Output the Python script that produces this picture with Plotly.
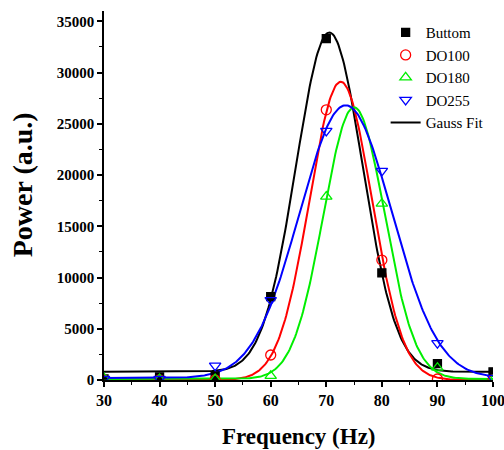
import numpy as np
import plotly.graph_objects as go

freq = [30, 40, 50, 60, 70, 80, 90, 100]
buttom = [100, 300, 400, 8140, 33300, 10450, 1600, 800]
do100 = [0, 0, 0, 2440, 26360, 11700, 100, 0]
do180 = [200, 100, 100, 400, 17900, 17200, 1200, 0]
do255 = [100, 100, 1400, 7800, 24300, 20400, 3600, 200]

series_names = ["Buttom", "DO100", "DO180", "DO255"]
series_colors = ["#000000", "#ff0000", "#00ee00", "#0000ff"]
series_symbols = ["square", "circle-open", "triangle-up-open", "triangle-down-open"]
series_values = [buttom, do100, do180, do255]

# Gauss fit parameters: baseline, amplitude, centre, sigma
fit_y0 = [800, 0, 100, 200]
fit_amp = [33100, 29100, 26500, 26600]
fit_xc = [70.55, 72.6, 75.0, 73.5]
fit_sigma = [6.0, 5.6, 5.5, 8.3]

x_ticks = [30, 40, 50, 60, 70, 80, 90, 100]
x_ticktext = ["30", "40", "50", "60", "70", "80", "90", "100"]
y_ticks = [0, 5000, 10000, 15000, 20000, 25000, 30000, 35000]
y_ticktext = ["0", "5000", "10000", "15000", "20000", "25000", "30000", "35000"]

fig = go.Figure()

xf = np.linspace(30, 100, 351)
for i in range(4):
    yf = fit_y0[i] + fit_amp[i] * np.exp(-((xf - fit_xc[i]) ** 2) / (2 * fit_sigma[i] ** 2))
    fig.add_trace(go.Scatter(
        x=xf, y=yf, mode="lines",
        line=dict(color=series_colors[i], width=2),
        name="Gauss Fit", showlegend=(i == 0), legendrank=5,
        hoverinfo="skip",
    ))

for i in range(4):
    sym = series_symbols[i]
    fig.add_trace(go.Scatter(
        x=freq, y=series_values[i], mode="markers",
        name=series_names[i], legendrank=i + 1,
        marker=dict(symbol=sym, color=series_colors[i],
                    size=8 if sym == "square" else 10,
                    line=dict(width=1.3, color=series_colors[i])),
    ))

axcommon = dict(showline=True, linewidth=1.5, linecolor="black", showgrid=False,
                zeroline=False, ticklen=5, tickwidth=1.5, tickcolor="black",
                automargin=False)

fig.update_layout(
    width=504, height=450,
    margin=dict(l=104, r=10.5, t=11, b=70, autoexpand=False),
    paper_bgcolor="white", plot_bgcolor="white",
    font=dict(family="Liberation Serif", color="black"),
    xaxis=dict(range=[30, 100], tickvals=x_ticks, ticktext=x_ticktext, ticks="outside",
               ticklabeloverflow="allow",
               tickfont=dict(family="Liberation Serif", size=16, color="black", weight="bold"),
               minor=dict(dtick=5, ticks="outside", ticklen=3, tickwidth=1.2, tickcolor="black"),
               **axcommon),
    yaxis=dict(range=[0, 36000], tickvals=y_ticks, ticktext=y_ticktext, ticks="outside",
               tickfont=dict(family="Liberation Serif", size=15, color="black", weight="bold"),
               minor=dict(dtick=2500, ticks="outside", ticklen=3, tickwidth=1.2, tickcolor="black"),
               **axcommon),
    xaxis2=dict(range=[30, 100], overlaying="x", side="top", tickvals=x_ticks,
                ticks="inside", showticklabels=False,
                minor=dict(dtick=5, ticks="inside", ticklen=3, tickwidth=1.2, tickcolor="black"),
                **axcommon),
    yaxis2=dict(range=[0, 36000], overlaying="y", side="right", tickvals=y_ticks,
                ticks="inside", showticklabels=False,
                minor=dict(dtick=2500, ticks="inside", ticklen=3, tickwidth=1.2, tickcolor="black"),
                **axcommon),
    legend=dict(x=0.724, y=0.986, xanchor="left", yanchor="top",
                bgcolor="rgba(0,0,0,0)", borderwidth=0,
                font=dict(family="Liberation Serif", size=15, color="black"),
                traceorder="normal"),
    showlegend=True,
    annotations=[
        dict(text="<b>Frequency (Hz)</b>", xref="paper", yref="paper",
             x=0.5, y=-0.1518, xanchor="center", yanchor="middle", showarrow=False,
             font=dict(family="Liberation Serif", size=23, color="black")),
        dict(text="<b>Power (a.u.)</b>", xref="paper", yref="paper",
             x=-0.2105, y=0.528, xanchor="center", yanchor="middle", showarrow=False,
             textangle=-90,
             font=dict(family="Liberation Serif", size=28, color="black")),
    ],
)

fig.write_html("out.html")
